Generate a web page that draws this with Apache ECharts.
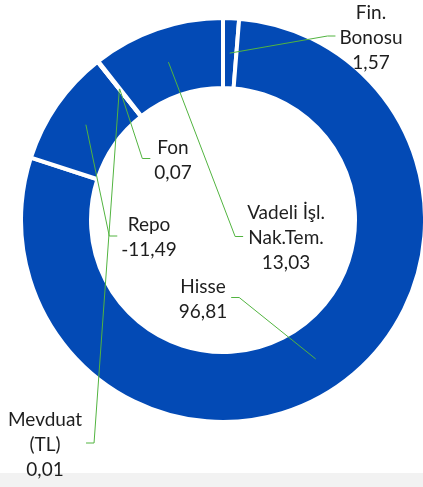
<!DOCTYPE html>
<html><head><meta charset="utf-8">
<script src="https://cdn.jsdelivr.net/npm/echarts@6/dist/echarts.min.js"></script>
<style>html,body{margin:0;padding:0;background:#fff;} #chart{width:423px;height:487px;background:linear-gradient(#ffffff 0, #ffffff 473px, #f2f2f2 473px);}</style>
</head><body><div id="chart"></div>
<script>
// ---- data ----
const categories = ['Fin.\nBonosu', 'Hisse', 'Repo', 'Mevduat\n(TL)', 'Fon', 'Vadeli İşl.\nNak.Tem.'];
const values = [1.57, 96.81, -11.49, 0.01, 0.07, 13.03];

// ---- layout ----
const CX = 223, CY = 220;
const R_OUT = 200, R_IN = 134, R_ANCHOR = 167, BORDER = 4;
const labelPlace = [
  { x: 371, y: 37.5, side: 'left' },
  { x: 203, y: 299, side: 'right' },
  { x: 149, y: 237.5, side: 'left' },
  { x: 45, y: 444.5, side: 'right' },
  { x: 173, y: 160, side: 'left' },
  { x: 286, y: 238, side: 'left' }
];
const BLUE = '#034ab5', GREEN = '#52b440';

const fmt = v => v.toFixed(2).replace('.', ',');
const absVals = values.map(v => Math.abs(v));
const total = absVals.reduce((a, b) => a + b, 0);
// mid angle (clockwise from 12 o'clock) of each slice, derived from data
const midAngle = [];
absVals.reduce((acc, v, i) => { midAngle[i] = (acc + v / 2) / total * 2 * Math.PI; return acc + v; }, 0);

const pieData = categories.map((c, i) => ({ name: c, value: absVals[i], raw: values[i] }));

const chart = echarts.init(document.getElementById('chart'));
chart.setOption({
  animation: false,
  series: [
    {
      type: 'pie',
      z: 1,
      center: [CX, CY],
      radius: [R_IN - BORDER / 2, R_OUT + BORDER / 2],
      startAngle: 90,
      clockwise: true,
      silent: true,
      label: { show: false },
      labelLine: { show: false },
      itemStyle: { color: BLUE, borderColor: '#ffffff', borderWidth: BORDER },
      emphasis: { disabled: true },
      data: pieData
    },
    {
      type: 'pie',
      z: 5,
      center: [CX, CY],
      radius: [0, R_ANCHOR],
      startAngle: 90,
      clockwise: true,
      silent: true,
      avoidLabelOverlap: false,
      itemStyle: { color: 'rgba(0,0,0,0)' },
      emphasis: { disabled: true },
      label: {
        show: true,
        position: 'outside',
        fontFamily: 'Lato',
        fontSize: 19,
        lineHeight: 25,
        color: '#1e1e1e',
        formatter: p => p.name + '\n' + fmt(p.data.raw)
      },
      labelLine: { show: true, length: 10, length2: 8, minTurnAngle: 0, lineStyle: { color: GREEN, width: 1 } },
      labelLayout: function (p) {
        const i = p.dataIndex;
        const s = labelPlace[i];
        const w = p.labelRect.width;
        const dir = s.side === 'left' ? -1 : 1;
        const edge = s.x + dir * (w / 2 + 4);
        const ly = s.y - 1.5;
        const ax = CX + R_ANCHOR * Math.sin(midAngle[i]);
        const ay = CY - R_ANCHOR * Math.cos(midAngle[i]);
        return {
          x: s.x, y: s.y, align: 'center', verticalAlign: 'middle',
          labelLinePoints: [[ax, ay], [edge + dir * 8, ly], [edge, ly]]
        };
      },
      data: pieData
    }
  ]
});
</script>
</body></html>
